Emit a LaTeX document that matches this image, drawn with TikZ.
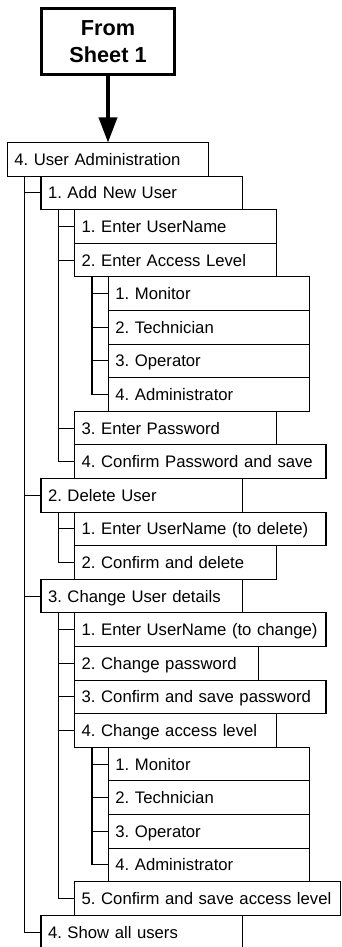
\documentclass[tikz,border=0pt]{standalone}
\usepackage{fontspec}
\setmainfont{Liberation Sans}
\usetikzlibrary{arrows.meta}

\newcommand{\itemfont}{\fontsize{16.7}{20}\selectfont\frenchspacing}
\newcommand{\headfont}{\bfseries\fontsize{21.7}{27}\selectfont}

\tikzset{
  item/.style={draw, line width=1.1pt, rectangle, anchor=north west,
    inner xsep=7pt, inner ysep=0pt, outer sep=0pt, minimum height=33.6pt,
    text height=12pt, text depth=0pt, align=left, text width=#1, font=\itemfont},
  item/.default=187.5pt,
  conn/.style={line width=1.1pt},
  sheetbox/.style={draw, line width=3.3pt, rectangle, minimum width=132.6pt,
    minimum height=66pt, inner sep=0pt, outer sep=0pt, align=center, font=\headfont},
  flow/.style={line width=3.5pt, -{Triangle[length=25pt,width=18pt]}}
}

\begin{document}
\begin{tikzpicture}[x=1pt, y=-1pt]
  \useasboundingbox (0,0) rectangle (341,947);
  \clip (0,0) rectangle (341,947);

  % entry box and arrow
  \node[sheetbox] (src) at (108,41.3) {From\\Sheet 1};

  % menu tree
  \node[item] (r0)  at (7.3,142.5)   {4. User Administration};
  \node[item] (r1)  at (41.0,176.1)  {1. Add New User};
  \node[item] (r2)  at (74.7,209.7)  {1. Enter UserName};
  \node[item] (r3)  at (74.7,243.3)  {2. Enter Access Level};
  \node[item] (r4)  at (108.4,276.9) {1. Monitor};
  \node[item] (r5)  at (108.4,310.5) {2. Technician};
  \node[item] (r6)  at (108.4,344.1) {3. Operator};
  \node[item] (r7)  at (108.4,377.7) {4. Administrator};
  \node[item] (r8)  at (74.7,411.3)  {3. Enter Password};
  \node[item=237.3pt] (r9)  at (74.7,444.9)  {4. Confirm Password and save};
  \node[item] (r10) at (41.0,478.5)  {2. Delete User};
  \node[item=237.3pt] (r11) at (74.7,512.1)  {1. Enter UserName (to delete)};
  \node[item] (r12) at (74.7,545.7)  {2. Confirm and delete};
  \node[item] (r13) at (41.0,579.3)  {3. Change User details};
  \node[item=237.3pt] (r14) at (74.7,612.9)  {1. Enter UserName (to change)};
  \node[item=170pt] (r15) at (74.7,646.5)  {2. Change password};
  \node[item=237.3pt] (r16) at (74.7,680.1)  {3. Confirm and save password};
  \node[item] (r17) at (74.7,713.7)  {4. Change access level};
  \node[item] (r18) at (108.4,747.3) {1. Monitor};
  \node[item] (r19) at (108.4,780.9) {2. Technician};
  \node[item] (r20) at (108.4,814.5) {3. Operator};
  \node[item] (r21) at (108.4,848.1) {4. Administrator};
  \node[item=251.8pt] (r22) at (74.7,881.7)  {5. Confirm and save access level};
  \node[item] (r23) at (41.0,915.3)  {4. Show all users};

  \draw[flow] (src.south) -- (src.south |- r0.north);

  % tree connectors: a trunk below each parent with a stub to every child
  \coordinate (t0) at ([xshift=17.3pt]r0.south west);
  \draw[conn] (t0) |- (r23.west);
  \foreach \c in {r1,r10,r13} \draw[conn] (t0 |- \c.west) -- (\c.west);

  \coordinate (t1) at ([xshift=17.3pt]r1.south west);
  \draw[conn] (t1) |- (r9.west);
  \foreach \c in {r2,r3,r8} \draw[conn] (t1 |- \c.west) -- (\c.west);

  \coordinate (t3) at ([xshift=17.3pt]r3.south west);
  \draw[conn] (t3) |- (r7.west);
  \foreach \c in {r4,r5,r6} \draw[conn] (t3 |- \c.west) -- (\c.west);

  \coordinate (t10) at ([xshift=17.3pt]r10.south west);
  \draw[conn] (t10) |- (r12.west);
  \draw[conn] (t10 |- r11.west) -- (r11.west);

  \coordinate (t13) at ([xshift=17.3pt]r13.south west);
  \draw[conn] (t13) |- (r22.west);
  \foreach \c in {r14,r15,r16,r17} \draw[conn] (t13 |- \c.west) -- (\c.west);

  \coordinate (t17) at ([xshift=17.3pt]r17.south west);
  \draw[conn] (t17) |- (r21.west);
  \foreach \c in {r18,r19,r20} \draw[conn] (t17 |- \c.west) -- (\c.west);
\end{tikzpicture}
\end{document}
